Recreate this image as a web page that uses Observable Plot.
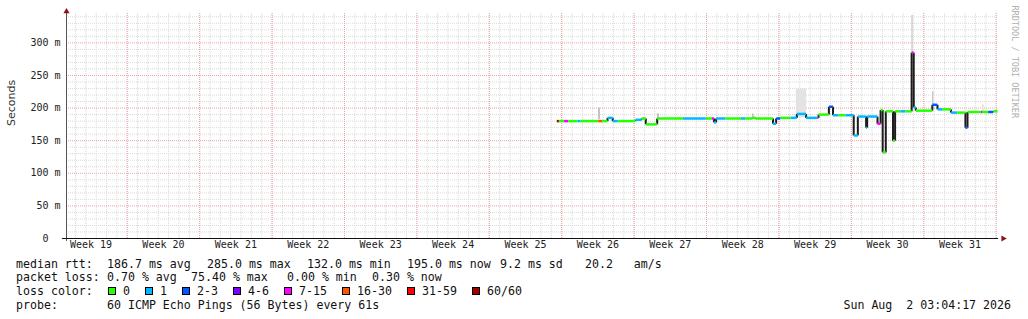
<!DOCTYPE html>
<html>
<head>
<meta charset="utf-8">
<script src="https://cdn.jsdelivr.net/npm/d3@7"></script>
<script src="https://cdn.jsdelivr.net/npm/@observablehq/plot@0.6"></script>
<style>
  body { margin: 0; background: #fff; }
  #wrap { position: relative; width: 1028px; height: 319px; overflow: hidden; background: #fff; }
  #wrap svg { position: absolute; left: 0; top: 0; }
  .lg { position: absolute; font-family: "DejaVu Sans Mono", monospace; font-size: 11.6px; line-height: 14px; color: #111; white-space: pre; }
  .sw { position: absolute; width: 6px; height: 6px; border: 1px solid #000; }
</style>
</head>
<body>
<div id="wrap"></div>
<script>
// 90-day window of the ping graph (UTC)
const windowStart = Date.UTC(2026, 4, 4, 3, 4, 17);
const windowEnd = Date.UTC(2026, 7, 2, 3, 4, 17);
const windowDays = 90;
const firstWeekStart = Date.UTC(2026, 4, 3); // Sunday before the window opens
const weekNumbers = [19, 20, 21, 22, 23, 24, 25, 26, 27, 28, 29, 30, 31];

const yTicks = [0, 50, 100, 150, 200, 250, 300];
const yTop = 345;

// loss buckets (packets lost out of 60)
const lossLabels = ["0", "1", "2-3", "4-6", "7-15", "16-30", "31-59", "60/60"];
const lossColors = ["#26ff00", "#00b8ff", "#0059ff", "#7e00ff", "#ff00ff", "#ff5500", "#ff0000", "#a00000"];

// median rtt: each step starts at medDay (days into the window), holds medMs, coloured by loss bucket
const medDay = [47.4, 47.6, 48.1, 48.5, 49.4, 49.7, 51.4, 51.8, 52.3, 52.8, 53.3, 55.0, 55.6, 56.0, 57.1,
  59.6, 61.8, 62.4, 62.6, 62.8, 63.7, 65.2, 65.6, 66.3, 66.6, 68.3, 68.6, 69.0, 70.0, 70.6, 71.5,
  72.6, 72.7, 73.7, 74.1, 74.6, 75.3, 76.1, 76.5, 77.3, 77.4, 78.4, 78.7, 78.9, 79.2, 79.9, 80.1,
  80.6, 81.1, 81.7, 81.9, 82.1, 83.7, 84.2, 84.7, 85.5, 86.1, 86.9, 87.1, 88.4, 88.5, 89.1, 89.6];
const medMs = [180, 180, 180, 180, 180, 180, 180, 180, 185, 180, 180, 182, 184, 175, 184,
  184, 184, 184, 178, 184, 184, 184, 184, 185, 184, 176, 184, 185, 185, 191, 185,
  185, 190, 202, 189, 189, 189, 158, 187, 170, 187, 176, 197, 132, 195, 150, 195,
  195, 195, 285, 201, 196, 205, 198, 198, 193, 193, 170, 194, 194, 194, 194, 195];
const medLoss = [7, 0, 4, 0, 1, 0, 5, 0, 1, 1, 0, 1, 0, 0, 0,
  1, 0, 4, 1, 1, 0, 1, 0, 0, 0, 1, 2, 0, 1, 1, 1,
  4, 0, 2, 1, 0, 1, 1, 1, 1, 1, 4, 0, 0, 0, 0, 0,
  1, 0, 4, 1, 0, 2, 1, 0, 1, 0, 2, 0, 4, 0, 2, 0];

// smoke: spread of individual pings (ms) with relative density
const smokeFrom = [51.45, 70.55, 81.72, 83.72, 66.35, 88.55, 81.95, 57.15];
const smokeTo = [51.6, 71.55, 81.85, 83.85, 66.45, 88.7, 82.05, 57.3];
const smokeLo = [182, 185, 285, 205, 185, 194, 201, 184];
const smokeHi = [200, 229, 342, 225, 191, 205, 212, 191];
const smokeDensity = [0.3, 0.11, 0.2, 0.23, 0.35, 0.13, 0.18, 0.3];

const DAY = 864e5;
const at = d => new Date(windowStart + d * DAY);

const segs = medDay.map((d, i) => ({
  x1: at(d), x2: at(i + 1 < medDay.length ? medDay[i + 1] : windowDays),
  y: medMs[i], color: lossColors[medLoss[i]]
}));
const steps = medDay.slice(1)
  .map((d, i) => ({x: at(d), y1: medMs[i], y2: medMs[i + 1]}))
  .filter(s => s.y1 !== s.y2);
const smoke = smokeFrom.map((d, i) => {
  const g = Math.round(255 * (1 - smokeDensity[i]));
  return {x1: at(d), x2: at(smokeTo[i]), y1: smokeLo[i], y2: smokeHi[i], fill: `rgb(${g},${g},${g})`};
});

// grid positions
const dayLines = d3.utcDay.range(new Date(windowStart), new Date(windowEnd + 1));
const weekLines = d3.utcSunday.range(new Date(windowStart), new Date(windowEnd + 1));
const minorY = d3.range(10, yTop, 10).filter(v => v % 50 !== 0);
const majorY = d3.range(50, yTop, 50);
const weekCenters = weekNumbers.map((n, i) => ({n, x: new Date(firstWeekStart + (i * 7 + 3.5) * DAY)}));

const axisX0 = new Date(windowStart - 0.4 * DAY);
const axisX1 = new Date(windowEnd + 0.1 * DAY);

const chart = Plot.plot({
  width: 1028,
  height: 256,
  marginLeft: 66,
  marginRight: 31,
  marginTop: 13,
  marginBottom: 18,
  x: {type: "utc", domain: [new Date(windowStart), new Date(windowEnd)], axis: null},
  y: {domain: [0, yTop], axis: null},
  color: {type: "identity"},
  style: {fontFamily: "'DejaVu Sans Mono', monospace", background: "#fff", overflow: "visible"},
  marks: [
    Plot.ruleX(dayLines, {stroke: "#d9d9d9", strokeDasharray: "1,1"}),
    Plot.ruleY(minorY, {stroke: "#d9d9d9", strokeDasharray: "1,1"}),
    Plot.ruleX(weekLines, {stroke: "#f0a0a0", strokeDasharray: "1,1"}),
    Plot.ruleY(majorY, {stroke: "#f0a0a0", strokeDasharray: "1,1"}),
    Plot.rect(smoke, {x1: "x1", x2: "x2", y1: "y1", y2: "y2", fill: "fill"}),
    Plot.link(steps, {x1: "x", x2: "x", y1: "y1", y2: "y2", stroke: "#1c1c1c", strokeWidth: 2}),
    Plot.link(segs, {x1: "x1", x2: "x2", y1: "y", y2: "y", stroke: "color", strokeWidth: 2.5}),
    // axis lines and arrows
    Plot.ruleX([new Date(windowStart)], {y1: -4.5, y2: yTop, stroke: "#555"}),
    Plot.ruleY([0], {x1: axisX0, x2: axisX1, stroke: "#111"}),
    Plot.dot([0], {x: () => new Date(windowStart), y: () => yTop, symbol: "triangle", r: 2.3, fill: "#8b1414", stroke: "none", dy: -2}),
    Plot.dot([0], {x: () => new Date(windowEnd + 0.55 * DAY), y: () => 0, symbol: "triangle", r: 2.3, fill: "#8b1414", stroke: "none", rotate: 90}),
    // tick labels
    Plot.text(yTicks, {y: d => d, frameAnchor: "left", dx: -6, textAnchor: "end", fontSize: 10, fill: "#222",
      text: d => d === 0 ? "0\u00a0\u00a0" : `${d} m`}),
    Plot.text(weekCenters, {x: "x", frameAnchor: "bottom", dy: 9, fontSize: 10, fill: "#222", text: d => `Week ${d.n}`}),
    Plot.text(["Seconds"], {frameAnchor: "left", dx: -55, rotate: -90, fontSize: 11, fill: "#333",
      fontFamily: "'DejaVu Sans', sans-serif"}),
    Plot.text(["RRDTOOL / TOBI OETIKER"], {frameAnchor: "top-right", dx: 21, dy: -8, rotate: 90, textAnchor: "start",
      fontSize: 8.5, fill: "#b0b0b0"})
  ]
});

const wrap = document.getElementById("wrap");
wrap.appendChild(chart);

// legend rows below the graph
const legendRows = [
  {top: 256.5, items: [[16, "median rtt:"], [107, "186.7 ms avg"], [207, "285.0 ms max"], [307, "132.0 ms min"],
    [407, "195.0 ms now"], [500, "9.2 ms sd"], [585, "20.2   am/s"]]},
  {top: 270.2, items: [[16, "packet loss:"], [107, "0.70 % avg"], [191, "75.40 % max"], [287, "0.00 % min"], [372, "0.30 % now"]]},
  {top: 284, items: [[16, "loss color:"]]},
  {top: 297.8, items: [[16, "probe:"], [107, "60 ICMP Echo Pings (56 Bytes) every 61s"]]}
];
for (const row of legendRows) {
  for (const [x, t] of row.items) {
    const s = document.createElement("div");
    s.className = "lg";
    s.style.left = x + "px";
    s.style.top = row.top + "px";
    s.textContent = t;
    wrap.appendChild(s);
  }
}
let lx = 108;
lossLabels.forEach((lab, i) => {
  const sw = document.createElement("div");
  sw.className = "sw";
  sw.style.left = lx + "px";
  sw.style.top = "286.5px";
  sw.style.background = lossColors[i];
  wrap.appendChild(sw);
  const t = document.createElement("div");
  t.className = "lg";
  t.style.left = (lx + 15) + "px";
  t.style.top = "284px";
  t.textContent = lab;
  wrap.appendChild(t);
  lx += 30 + lab.length * 7;
});
const stamp = document.createElement("div");
stamp.className = "lg";
stamp.style.right = "17px";
stamp.style.top = "297.8px";
stamp.textContent = "Sun Aug  2 03:04:17 2026";
wrap.appendChild(stamp);
</script>
</body>
</html>
